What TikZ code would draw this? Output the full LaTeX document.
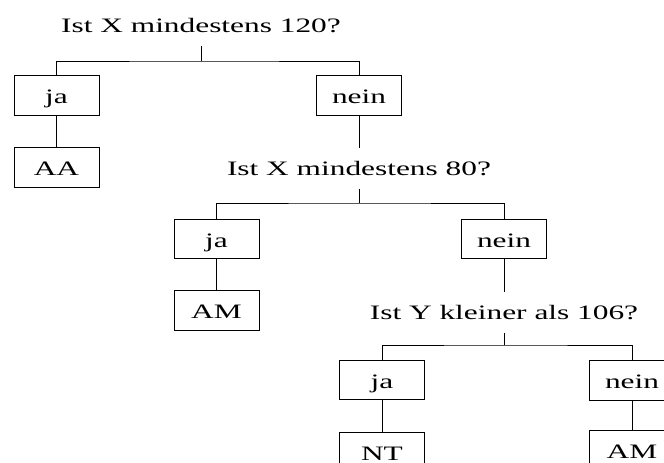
\documentclass[tikz,border=0pt]{standalone}
\usepackage{fontspec}
\setmainfont{Liberation Serif}
\usepackage{graphicx}
\usetikzlibrary{calc}
\newcommand{\wtxt}[1]{\scalebox{1.53}[1]{#1}}
\begin{document}
\begin{tikzpicture}[x=1pt,y=-1pt,
  lbl/.style={font=\fontsize{20.5}{24}\selectfont, inner sep=0pt},
  question/.style={lbl, text height=13.5pt, text depth=0pt, inner ysep=13.5pt},
  answer/.style={lbl, draw, line width=0.8pt, minimum width=85pt, minimum height=39.5pt, text height=16pt, text depth=0pt},
  conn/.style={line width=0.8pt}]
\useasboundingbox (0,0) rectangle (664,463);
\clip (0,0) rectangle (664,463);
% level 1
\node[question] (q1) at (201,25.25) {\wtxt{Ist X mindestens 120?}};
\node[answer] (ja1) at (56.5,95.5) {\wtxt{ja}};
\node[answer] (nein1) at (359,95.5) {\wtxt{nein}};
\node[answer] (aa) at (56.5,167.5) {\wtxt{AA}};
\coordinate (b1) at (201,61);
\draw[conn] (q1.south) -- (b1);
\draw[conn] (ja1.north) |- (b1) -| (nein1.north);
\draw[conn] (ja1.south) -- (aa.north);
% level 2
\node[question] (q2) at (359,168.25) {\wtxt{Ist X mindestens 80?}};
\draw[conn] (nein1.south) -- (q2.north);
\node[answer] (ja2) at (216.5,239) {\wtxt{ja}};
\node[answer] (nein2) at (504,239) {\wtxt{nein}};
\node[answer] (am1) at (216.5,310.5) {\wtxt{AM}};
\coordinate (b2) at (359,203);
\draw[conn] (q2.south) -- (b2);
\draw[conn] (ja2.north) |- (b2) -| (nein2.north);
\draw[conn] (ja2.south) -- (am1.north);
% level 3
\node[question] (q3) at (504,312.25) {\wtxt{Ist Y kleiner als 106?}};
\draw[conn] (nein2.south) -- (q3.north);
\node[answer] (ja3) at (382,380) {\wtxt{ja}};
\node[answer] (nein3) at (632,380.5) {\wtxt{nein}};
\node[answer] (nt) at (382,452) {\wtxt{NT}};
\node[answer] (am2) at (632,450) {\wtxt{AM}};
\coordinate (b3) at (504,345);
\draw[conn] (q3.south) -- (b3);
\draw[conn] (ja3.north) |- (b3) -| (nein3.north);
\draw[conn] (ja3.south) -- (nt.north);
\draw[conn] (nein3.south) -- (am2.north);
\end{tikzpicture}
\end{document}
